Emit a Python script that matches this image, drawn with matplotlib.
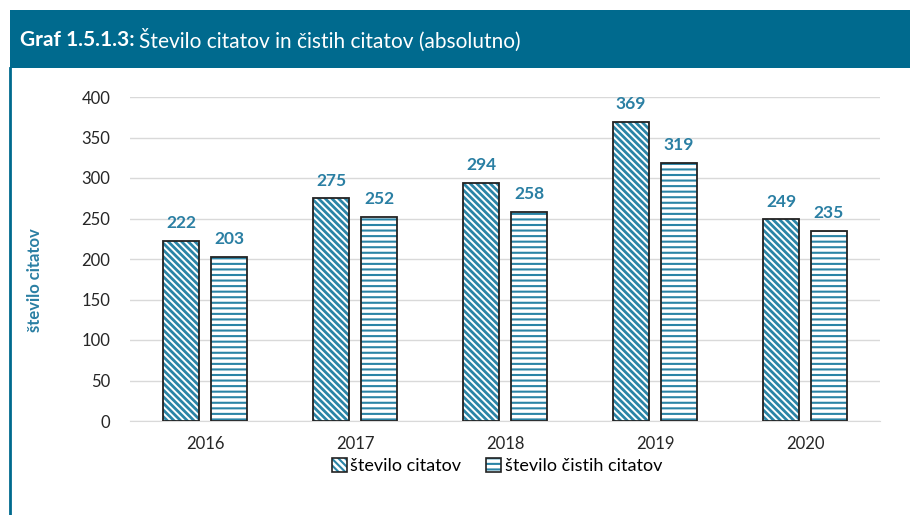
import matplotlib
matplotlib.use("Agg")
import matplotlib.pyplot as plt
from matplotlib.patches import Rectangle, Patch
from matplotlib.legend_handler import HandlerTuple
import numpy as np

years = ["2016", "2017", "2018", "2019", "2020"]
stevilo_citatov = [222, 275, 294, 369, 249]
stevilo_cistih = [203, 252, 258, 319, 235]
series_names = ["število citatov", "število čistih citatov"]
yticks = [0, 50, 100, 150, 200, 250, 300, 350, 400]

TEAL = "#006A8E"
HATCH = "#2A84A6"
LABEL = "#2A7FA3"
EDGE = "#222222"

plt.rcParams['font.family'] = ['Lato', 'DejaVu Sans']

fig = plt.figure(figsize=(9.1, 5.15), dpi=100)
fig.patch.set_facecolor("white")

# header band
fig.patches.append(Rectangle((10/910, 1-68/515), 900/910, 58/515, transform=fig.transFigure,
                             facecolor=TEAL, edgecolor="none", zorder=0))
# left frame line
fig.add_artist(plt.Line2D([9.5/910, 9.5/910], [0, 1-68/515], transform=fig.transFigure,
                          color=TEAL, lw=2))
t1 = fig.text(20/910, 1-40/515, "Graf 1.5.1.3:", color="white", fontsize=15, fontweight="bold",
              va="center", ha="left")
fig.canvas.draw()
bb = t1.get_window_extent()
fig.text((bb.x1 + 4)/910, 1-40/515, "Število citatov in čistih citatov (absolutno)", color="white",
         fontsize=15, va="center", ha="left")

ax = fig.add_axes([130/910, 1-421/515, 750/910, 324/515])
x = np.arange(len(years))
w = 0.24
off = 0.16
H1 = "\\\\\\\\\\"
H2 = "---"
# hatch layers
plt.rcParams['hatch.linewidth'] = 2.0
ax.bar(x - off, stevilo_citatov, w, facecolor="white", edgecolor=HATCH, hatch=H1, linewidth=0, zorder=3)
leg1 = Patch(facecolor="white", edgecolor=HATCH, hatch=H1, linewidth=0)
plt.rcParams['hatch.linewidth'] = 1.5
ax.bar(x + off, stevilo_cistih, w, facecolor="white", edgecolor=HATCH, hatch=H2, linewidth=0, zorder=3)
leg2 = Patch(facecolor="white", edgecolor=HATCH, hatch=H2, linewidth=0)
# outlines
ax.bar(x - off, stevilo_citatov, w, facecolor="none", edgecolor=EDGE, linewidth=1.3, zorder=4)
ax.bar(x + off, stevilo_cistih, w, facecolor="none", edgecolor=EDGE, linewidth=1.3, zorder=4)
for xi, v in zip(x - off, stevilo_citatov):
    ax.text(xi, v + 12, str(v), ha="center", va="bottom", color=LABEL, fontsize=12.5, fontweight="bold")
for xi, v in zip(x + off, stevilo_cistih):
    ax.text(xi, v + 12, str(v), ha="center", va="bottom", color=LABEL, fontsize=12.5, fontweight="bold")

ax.set_xlim(-0.5, len(years) - 0.5)
ax.set_ylim(0, 400)
ax.set_yticks(yticks)
ax.set_xticks(x)
ax.set_xticklabels(years)
ax.yaxis.grid(True, color="#D9D9D9", lw=1)
ax.set_axisbelow(True)
for s in ["top", "right", "left"]:
    ax.spines[s].set_visible(False)
ax.spines["bottom"].set_color("#D9D9D9")
ax.tick_params(axis="both", length=0, labelsize=12, colors="#262626")
ax.tick_params(axis="y", pad=14)
ax.tick_params(axis="x", pad=11)
ax.set_ylabel("število citatov", color=LABEL, fontsize=12, fontweight="bold")
ax.yaxis.set_label_coords(-87/750, (421-280)/324)

def outline():
    return Patch(facecolor="none", edgecolor=EDGE, linewidth=1.2)

fig.legend(handles=[(leg1, outline()), (leg2, outline())], labels=series_names, loc="center",
           bbox_to_anchor=(497/910, 1-466/515), ncol=2,
           handler_map={tuple: HandlerTuple(ndivide=1, pad=0)},
           frameon=False, fontsize=13, handlelength=0.8, handleheight=0.8, handletextpad=0.2,
           columnspacing=1.4)

fig.savefig("out.png", dpi=100)
